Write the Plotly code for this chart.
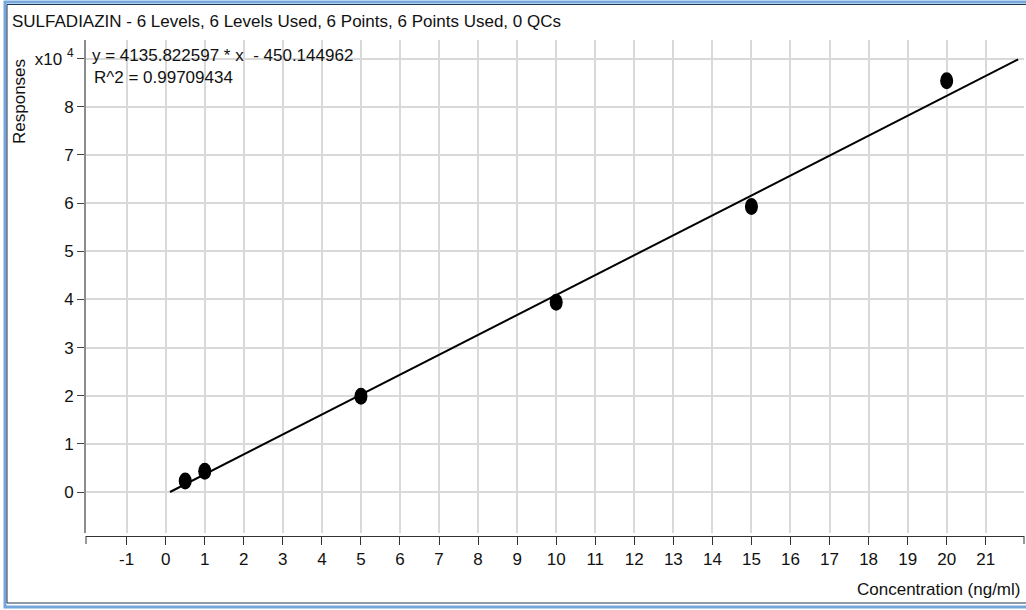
import plotly.graph_objects as go

# Calibration data: SULFADIAZIN
concentration = [0.5, 1, 5, 10, 15, 20]          # ng/ml
responses = [2290, 4300, 19900, 39400, 59300, 85400]

# Linear fit reported for the calibration
slope = 4135.822597
intercept = -450.144962
r_squared = 0.99709434
fit_x = [0.11, 21.83]
fit_y = [slope * x + intercept for x in fit_x]

x_ticks = list(range(-1, 22))
x_tick_text = [str(v) for v in x_ticks]           # plain hyphen for negatives
y_ticks = [i * 10000 for i in range(10)]
y_tick_text = [str(i) for i in range(9)] + ["x10 <sup>4</sup>"]

title_text = "SULFADIAZIN - 6 Levels, 6 Levels Used, 6 Points, 6 Points Used, 0 QCs"
eq_text = "y = 4135.822597 * x \u00a0- 450.144962"
r2_text = "R^2 = 0.99709434"

FONT = "Liberation Sans, Arial, sans-serif"
FS = 17
W, H = 1026, 610
L, R, T, B = 86, 2, 40, 74
PW, PH = W - L - R, H - T - B


def px(xp):
    return (xp - L) / PW


def py(yp):
    return (H - B - yp) / PH


fig = go.Figure()

fig.add_trace(go.Scatter(
    x=fit_x, y=fit_y, mode="lines",
    line=dict(color="black", width=2),
    hoverinfo="skip", showlegend=False,
))
fig.add_trace(go.Scatter(
    x=concentration, y=responses, mode="markers",
    marker=dict(color="black", size=12, symbol="circle"),
    showlegend=False,
))

shapes = []
# Calibration points drawn as upright ellipses
for cx, cy in zip(concentration, responses):
    shapes.append(dict(
        type="circle", xref="x", yref="y",
        xsizemode="pixel", ysizemode="pixel",
        xanchor=cx, yanchor=cy,
        x0=-6.5, x1=6.5, y0=-8.5, y1=8.5,
        fillcolor="black", line=dict(width=0), layer="above",
    ))

# Small end caps on the x axis line
for xe in (0, 1):
    shapes.append(dict(type="line", xref="paper", yref="paper",
                       x0=xe, x1=xe, y0=0, y1=py(H - B + 8),
                       line=dict(color="#333333", width=1)))

# Window frame
shapes.append(dict(type="rect", xref="paper", yref="paper",
                   x0=px(5), x1=px(1030), y0=py(2), y1=py(607),
                   line=dict(color="#74a6db", width=3), layer="above"))
shapes.append(dict(type="rect", xref="paper", yref="paper",
                   x0=px(7), x1=px(1030), y0=py(4.5), y1=py(603),
                   line=dict(color="#1d3550", width=1), layer="above"))

annotations = [
    dict(text=title_text, xref="paper", yref="paper", x=px(10), y=py(22),
         xanchor="left", yanchor="middle", showarrow=False,
         font=dict(family=FONT, size=FS, color="#111111")),
    dict(text=eq_text, xref="paper", yref="paper", x=px(90), y=py(56),
         xanchor="left", yanchor="middle", showarrow=False,
         font=dict(family=FONT, size=FS, color="#111111")),
    dict(text=r2_text, xref="paper", yref="paper", x=px(92), y=py(77),
         xanchor="left", yanchor="middle", showarrow=False,
         font=dict(family=FONT, size=FS, color="#111111")),
    dict(text="Responses", xref="paper", yref="paper", x=px(19), y=py(102),
         xanchor="center", yanchor="middle", textangle=-90, showarrow=False,
         font=dict(family=FONT, size=FS, color="#111111")),
    dict(text="Concentration (ng/ml)", xref="paper", yref="paper", x=px(1022), y=py(589),
         xanchor="right", yanchor="middle", showarrow=False,
         font=dict(family=FONT, size=FS, color="#111111")),
]

fig.update_layout(
    width=W, height=H,
    margin=dict(l=L, r=R, t=T, b=B, pad=0),
    paper_bgcolor="white", plot_bgcolor="white",
    showlegend=False,
    shapes=shapes, annotations=annotations,
    font=dict(family=FONT, size=FS, color="#111111"),
    xaxis=dict(
        range=[-2.041, 21.98], tickvals=x_ticks, ticktext=x_tick_text,
        showgrid=True, gridcolor="#d9d9d9", gridwidth=2,
        zeroline=False, showline=True, linecolor="#333333", linewidth=1,
        ticks="outside", ticklen=8, tickcolor="#333333", tickwidth=1,
        anchor="free", position=0,
        tickfont=dict(family=FONT, size=FS, color="#111111"),
    ),
    yaxis=dict(
        range=[-8510, 93870], domain=[3 / PH, 1],
        tickvals=y_ticks, ticktext=y_tick_text,
        showgrid=True, gridcolor="#d9d9d9", gridwidth=2,
        zeroline=False, showline=True, linecolor="#8c8c8c", linewidth=2,
        ticks="outside", ticklen=7, tickcolor="#444444", tickwidth=1,
        tickfont=dict(family=FONT, size=FS, color="#111111"),
    ),
)

fig.write_html("out.html")
